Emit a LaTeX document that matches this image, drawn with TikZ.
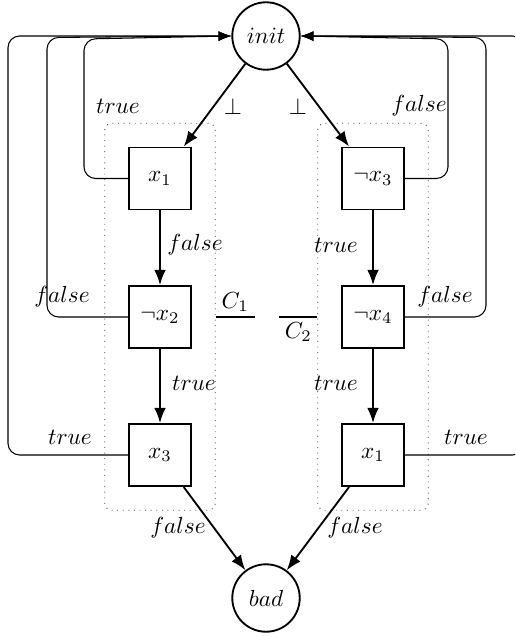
\documentclass[tikz,border=0pt]{standalone}
\usetikzlibrary{arrows.meta,fit}
\begin{document}
\begin{tikzpicture}[x=0.43pt,y=-0.43pt,
  state/.style={circle, draw, line width=0.8pt, minimum size=29pt, inner sep=0pt},
  var/.style={rectangle, draw, line width=0.8pt, minimum size=26.7pt, inner sep=0pt},
  arr/.style={-{Latex[length=6.5pt,width=5pt]}, line width=0.8pt},
  back/.style={-{Latex[length=5.5pt,width=4.2pt]}, line width=0.45pt, rounded corners=5pt},
  grp/.style={draw=black!75, dotted, rounded corners=3pt, inner sep=10pt},
  lbl/.style={inner sep=1pt}]
\useasboundingbox (0,0) rectangle (515,637);
\clip (0,0) rectangle (515,637);
\node[state] (init) at (266,36) {$init$};
\node[state] (bad) at (266,598) {$bad$};
\node[var] (x1) at (160,178.5) {$x_1$};
\node[var] (nx2) at (160,317) {$\neg x_2$};
\node[var] (x3) at (160,455) {$x_3$};
\node[var] (nx3) at (373,178.5) {$\neg x_3$};
\node[var] (nx4) at (373,317) {$\neg x_4$};
\node[var] (y1) at (373,455) {$x_1$};
\node[grp, fit=(x1)(x3)] (gL) {};
\node[grp, fit=(nx3)(y1)] (gR) {};
% forward edges
\draw[arr] (init) -- (x1);
\draw[arr] (init) -- (nx3);
\draw[arr] (x1) -- (nx2);
\draw[arr] (nx2) -- (x3);
\draw[arr] (nx3) -- (nx4);
\draw[arr] (nx4) -- (y1);
\draw[arr] (x3) -- (bad);
\draw[arr] (y1) -- (bad);
% back loops
\coordinate (l1) at (84,39);
\coordinate (l2) at (47,37.5);
\coordinate (l3) at (8,36);
\coordinate (r1) at (448,39);
\coordinate (r2) at (486,37.5);
\coordinate (r3) at (524,36);
\draw[back] (x1.west) -| (l1) -- (init.west);
\draw[back] (nx2.west) -| (l2) -- (init.west);
\draw[back] (x3.west) -| (l3) -- (init.west);
\draw[back] (nx3.east) -| (r1) -- (init.east);
\draw[back] (nx4.east) -| (r2) -- (init.east);
\draw[back] (y1.east) -| (r3) -- (init.east);
% labels
\node[lbl] (t1) at (118,106) {$true$};
\node[lbl] (t2) at (62,297) {$false$};
\node[lbl] (t3) at (70,437) {$true$};
\node[lbl] (t4) at (419,106) {$false$};
\node[lbl] (t5) at (445,297) {$false$};
\node[lbl] (t6) at (466,437) {$true$};
\node[lbl] (b1) at (233,106) {$\bot$};
\node[lbl] (b2) at (298,106) {$\bot$};
\node[lbl] (e1) at (195,245) {$false$};
\node[lbl] (e2) at (194,383) {$true$};
\node[lbl] (e3) at (336,245) {$true$};
\node[lbl] (e4) at (336,383) {$true$};
\node[lbl] (e5) at (178,528) {$false$};
\node[lbl] (e6) at (355,528) {$false$};
\draw[line width=0.45pt] (gL.east |- nx2) -- node[above, inner sep=2pt]{$C_1$} ++(39,0);
\draw[line width=0.45pt] (gR.west |- nx4) -- node[below, inner sep=2pt]{$C_2$} ++(-38,0);
\end{tikzpicture}
\end{document}
